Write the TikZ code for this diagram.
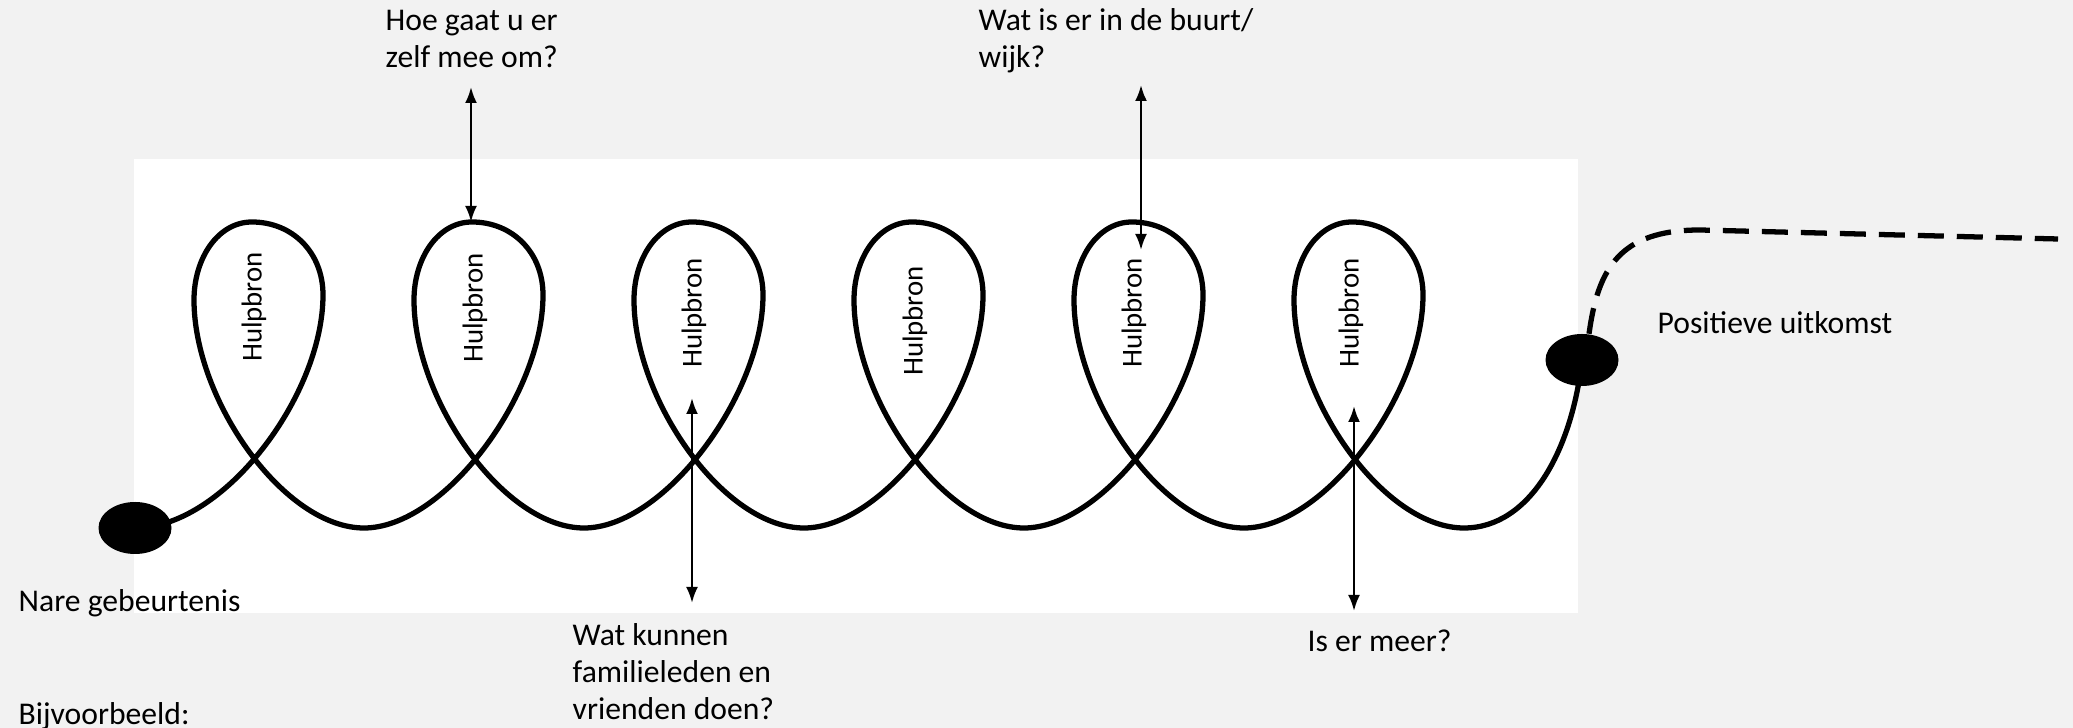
\documentclass[tikz,border=0pt]{standalone}
\usepackage{fontspec}
\setmainfont{Carlito}
\usetikzlibrary{shapes.geometric, arrows.meta}
\definecolor{achtergrond}{RGB}{242,242,242}
\tikzset{
  stip/.style={ellipse, fill=black, inner sep=0pt, minimum width=0.73cm, minimum height=0.52cm},
  vraag/.style={anchor=base west, align=left, inner sep=0pt, font=\fontsize{9}{10.6}\selectfont},
  hulp/.style={rotate=90, inner sep=0pt, font=\fontsize{8.2}{9}\selectfont},
  pijl/.style={<->, line width=0.7pt},
}

\begin{document}
\begin{tikzpicture}[>={Latex[length=1.6mm,width=1.2mm]}]
            \useasboundingbox (0,0) rectangle (20.73,7.28);
            \fill[achtergrond] (0,0) rectangle (20.73,7.28);
            \fill[white] (1.34,1.15) rectangle (15.78,5.69);

            \node[stip] (start) at (1.35,2.00) {};
            \node[stip] (eind) at (15.82,3.68) {};

            % spiraal van nare gebeurtenis naar positieve uitkomst
            \draw[line width=1.5pt] (start.center)
                \foreach \c in {2.54,4.74,6.94,9.14,11.34,13.54} {
                    .. controls ({\c-0.30},2.00) and ({\c+0.69},3.33) .. ({\c+0.69},4.33)
                    .. controls ({\c+0.69},4.76) and ({\c+0.38},5.06) .. ({\c-0.02},5.06)
                    .. controls ({\c-0.36},5.06) and ({\c-0.60},4.70) .. ({\c-0.60},4.28)
                    .. controls ({\c-0.60},3.28) and ({\c+0.30},2.00) .. ({\c+1.10},2.00)
                }
                .. controls (15.30,2.00) and (15.72,2.78) .. (eind.center);

            \coordinate (verder) at (20.58,4.89);
            \draw[line width=1.5pt, dash pattern=on 0.26cm off 0.13cm] (eind.75)
                .. controls (15.98,4.60) and (16.20,4.98) .. (17.00,4.98) -- (verder);

            \foreach \c/\h [count=\i] in {2.54/4.21, 4.75/4.20, 6.94/4.15, 9.15/4.07, 11.34/4.15, 13.51/4.15}
                \node[hulp] (hulp\i) at (\c,\h) {Hulpbron};

            % bij meerdere regels ligt base op de laatste regel
            \node[vraag] (zelf) at (3.85,6.60) {Hoe gaat u er\\zelf mee om?};
            \node[vraag] (buurt) at (9.78,6.60) {Wat is er in de buurt/\\wijk?};
            \node[vraag] (familie) at (5.72,0.08) {Wat kunnen\\familieleden en\\vrienden doen?};
            \node[vraag] (meer) at (13.07,0.76) {Is er meer?};
            \node[vraag] (nare) at (0.18,1.16) {Nare gebeurtenis};
            \node[vraag] (bijv) at (0.18,0.03) {Bijvoorbeeld:};
            \node[vraag] (positief) at (16.57,3.94) {Positieve uitkomst};

            \coordinate (z1) at (4.71,6.41);
            \coordinate (z2) at (4.71,5.06);
            \coordinate (b1) at (11.41,6.43);
            \coordinate (b2) at (11.41,4.78);
            \coordinate (f1) at (6.92,3.30);
            \coordinate (f2) at (6.92,1.25);
            \coordinate (m1) at (13.54,3.22);
            \coordinate (m2) at (13.54,1.17);
            \draw[pijl] (z1) -- (z2);
            \draw[pijl] (b1) -- (b2);
            \draw[pijl] (f1) -- (f2);
            \draw[pijl] (m1) -- (m2);
        \end{tikzpicture}
\end{document}
